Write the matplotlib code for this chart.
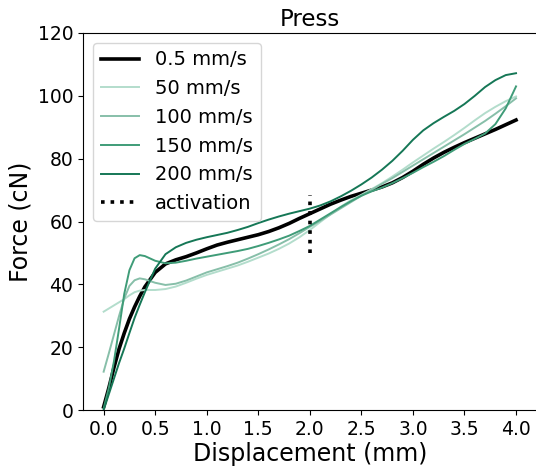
import matplotlib
matplotlib.use("Agg")
import matplotlib.pyplot as plt

# displacement grid (mm) shared by all curves
disp = [0.0, 0.05, 0.1, 0.15, 0.2, 0.25, 0.3, 0.35, 0.4,
        0.5, 0.6, 0.7, 0.8, 0.9, 1.0, 1.1, 1.2, 1.3, 1.4, 1.5, 1.6, 1.7,
        1.8, 1.9, 2.0, 2.1, 2.2, 2.3, 2.4, 2.5, 2.6, 2.7, 2.8, 2.9, 3.0,
        3.1, 3.2, 3.3, 3.4, 3.5, 3.6, 3.7, 3.8, 3.9, 4.0]

# force (cN) per press speed
force_05 = [1, 7, 13.5, 19.5, 24.5, 29, 32.8, 36.2, 39.2,
            43.8, 46.5, 47.8, 48.8, 50, 51.3, 52.5, 53.4, 54.2, 55, 55.8,
            56.8, 58, 59.4, 61, 62.5, 64, 65.5, 66.8, 68, 69, 70, 71, 72.3,
            74, 76, 78.2, 80.2, 82, 83.6, 85.1, 86.5, 87.9, 89.3, 90.8, 92.3]
force_50 = [31.3, 32.3, 33.3, 34.3, 35.3, 36.5, 37.5, 38, 38.2,
            38.2, 38.5, 39.3, 40.5, 41.8, 43, 44, 45, 46, 47.2, 48.5, 49.8,
            51.3, 53, 55, 57.3, 59.8, 62.3, 64.7, 66.8, 68.5, 70.3, 72.2,
            74.3, 76.5, 78.8, 81, 83.2, 85.3, 87.5, 89.8, 92.2, 94.5, 96.5,
            98.3, 99.8]
force_100 = [12.2, 18, 24, 30, 35.5, 39.5, 41.3, 41.9, 41.6,
             40.5, 39.8, 40.2, 41.2, 42.5, 43.8, 44.8, 45.8, 46.9, 48.2,
             49.6, 51.1, 52.7, 54.4, 56.3, 58.3, 60.2, 62.2, 64.2, 66.2,
             68.2, 70.1, 72, 73.8, 75.8, 77.8, 79.8, 81.8, 83.8, 85.8, 87.8,
             89.9, 92, 94.3, 96.7, 99.2]
force_150 = [0.5, 7, 15.5, 26, 37, 44.5, 48.3, 49.3, 49,
             47.5, 46.7, 46.9, 47.5, 48.2, 48.8, 49.4, 50, 50.6, 51.3, 52.2,
             53.2, 54.3, 55.5, 57, 58.6, 60.6, 62.6, 64.6, 66.5, 68.2, 69.6,
             70.8, 72.2, 73.8, 75.5, 77.3, 79, 80.8, 82.8, 84.7, 86.3, 88,
             91, 96, 103]
force_200 = [0, 5, 10, 15, 19.6, 24.5, 29.3, 33.5, 37.5,
             45, 49.6, 51.8, 53.2, 54.2, 55, 55.7, 56.4, 57.3, 58.3, 59.5,
             60.6, 61.6, 62.5, 63.3, 64.1, 65.1, 66.4, 68, 69.8, 71.8, 74,
             76.5, 79.3, 82.5, 86, 89, 91.3, 93.3, 95.2, 97.4, 100, 102.8,
             105, 106.6, 107.2]

speed_labels = ["50 mm/s", "100 mm/s", "150 mm/s", "200 mm/s"]
speed_colors = ["#b3ddcc", "#87bfa9", "#3f9c78", "#157756"]

activation_x = 2.0
activation_y = [50, 68.5]


def main() -> None:
    fig = plt.figure(figsize=(5.36, 4.68), dpi=100)
    ax = fig.add_axes([0.1549, 0.1239, 0.8463, 0.8056])

    ax.plot(disp, force_05, color="black", linewidth=2.6, label="0.5 mm/s")
    for ys, lab, col in zip([force_50, force_100, force_150, force_200],
                            speed_labels, speed_colors):
        ax.plot(disp, ys, color=col, linewidth=1.4, label=lab)
    ax.plot([activation_x, activation_x], activation_y, color="black",
            linestyle=":", linewidth=2.6, label="activation")

    ax.set_xlim(-0.2, 4.2)
    ax.set_ylim(0, 120)
    ax.set_xticks([0, 0.5, 1.0, 1.5, 2.0, 2.5, 3.0, 3.5, 4.0])
    ax.set_yticks([0, 20, 40, 60, 80, 100, 120])
    ax.tick_params(labelsize=13.5)
    ax.set_xlabel("Displacement (mm)", fontsize=17, labelpad=2)
    ax.set_ylabel("Force (cN)", fontsize=17)
    ax.set_title("Press", fontsize=16.5, pad=5)
    ax.legend(loc="upper left", fontsize=14)

    fig.savefig("out.png", dpi=100)


if __name__ == "__main__":
    main()
